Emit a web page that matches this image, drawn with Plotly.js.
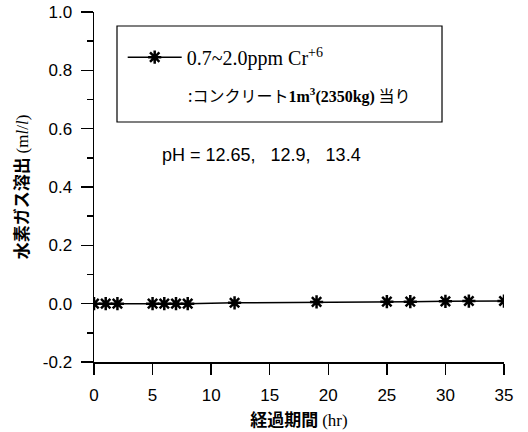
<!DOCTYPE html>
<html>
<head>
<meta charset="utf-8">
<script src="https://cdn.plot.ly/plotly-3.0.1.min.js"></script>
<style>
  html, body { margin: 0; padding: 0; background: #fff; }
  #chart { width: 528px; height: 432px; }
</style>
</head>
<body>
<div id="chart"></div>
<script>
// Elapsed time (hr) and hydrogen gas released (ml/l)
const hours = [0, 1, 2, 5, 6, 7, 8, 12, 19, 25, 27, 30, 32, 35];
const hydrogen = [0, 0, 0, 0, 0, 0, 0, 0.003, 0.006, 0.007, 0.007, 0.008, 0.009, 0.009];
const seriesName = '0.7~2.0ppm Cr<sup>+6</sup>';
const xTicks = [0, 5, 10, 15, 20, 25, 30, 35];
const yTicks = [-0.2, 0, 0.2, 0.4, 0.6, 0.8, 1.0];

const sans = '"Liberation Sans", Arial, sans-serif';
const serif = "'Liberation Serif', 'Times New Roman', serif";
const cjk = '"Noto Sans CJK JP", sans-serif';

const trace = {
  x: hours,
  y: hydrogen,
  name: seriesName,
  type: 'scatter',
  mode: 'lines+markers',
  line: { color: '#000', width: 1.5 },
  marker: { symbol: 'asterisk-open', size: 11, color: '#000', line: { color: '#000', width: 2.5 } }
};

const layout = {
  width: 528,
  height: 432,
  margin: { l: 94, r: 24, t: 12, b: 70 },
  paper_bgcolor: '#fff',
  plot_bgcolor: '#fff',
  showlegend: true,
  legend: {
    x: 0.07, xanchor: 'left',
    y: 0.871, yanchor: 'middle',
    bgcolor: 'rgba(0,0,0,0)',
    borderwidth: 0,
    itemwidth: 54,
    font: { family: serif, size: 20, color: '#000' }
  },
  xaxis: {
    range: [0, 35],
    tickvals: xTicks,
    ticktext: xTicks.map(String),
    ticks: 'outside', ticklen: 11, tickwidth: 1.5, tickcolor: '#000',
    showline: true, linecolor: '#000', linewidth: 1.5,
    showgrid: false, zeroline: false,
    ticklabelstandoff: 6,
    tickfont: { family: sans, size: 17, color: '#000' },
    title: {
      text: '経過期間 <span style="font-family:' + serif + '; font-weight:normal">(hr)</span>',
      font: { family: cjk, size: 17, color: '#000', weight: 'bold' },
      standoff: 10
    }
  },
  yaxis: {
    range: [-0.2, 1.0],
    tickvals: yTicks,
    ticktext: yTicks.map(v => v.toFixed(1)),
    ticks: 'outside', ticklen: 12, tickwidth: 1.5, tickcolor: '#000',
    minor: { dtick: 0.1, tick0: 0.1, ticks: 'outside', ticklen: 6, tickwidth: 1.5, tickcolor: '#000', showgrid: false },
    showline: true, linecolor: '#000', linewidth: 1.5,
    showgrid: false, zeroline: false,
    ticklabelstandoff: 5,
    tickfont: { family: sans, size: 17, color: '#000' },
    title: {
      text: '水素ガス溶出 <span style="font-family:' + serif + '; font-weight:normal">(m<i>l</i>/<i>l</i>)</span>',
      font: { family: cjk, size: 17, color: '#000', weight: 'bold' },
      standoff: 10
    }
  },
  shapes: [
    {
      type: 'rect', xref: 'paper', yref: 'paper',
      x0: 0.0561, x1: 0.8488, y0: 0.6857, y1: 0.96,
      line: { color: '#000', width: 1.2 },
      fillcolor: 'rgba(0,0,0,0)'
    }
  ],
  annotations: [
    {
      xref: 'paper', yref: 'paper',
      x: 0.2244, y: 0.763, xanchor: 'left', yanchor: 'middle',
      showarrow: false,
      text: ':コンクリート<span style="font-family:' + serif + '; font-weight:bold">1m<sup>3</sup>(2350kg)</span> 当り',
      font: { family: cjk, size: 16, color: '#000' }
    },
    {
      xref: 'paper', yref: 'paper',
      x: 0.161, y: 0.591, xanchor: 'left', yanchor: 'middle',
      showarrow: false,
      text: 'pH = 12.65,&nbsp;&nbsp;&nbsp;12.9,&nbsp;&nbsp;&nbsp;13.4',
      font: { family: sans, size: 18, color: '#000' }
    }
  ]
};

Plotly.newPlot('chart', [trace], layout, { staticPlot: true, displayModeBar: false });
</script>
</body>
</html>
